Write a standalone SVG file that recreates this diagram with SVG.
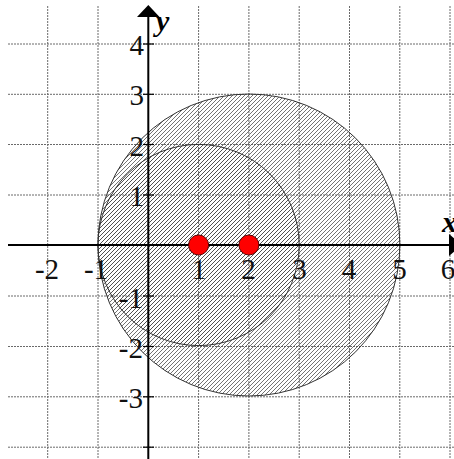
<svg xmlns="http://www.w3.org/2000/svg" width="454" height="459" viewBox="0 0 454 459">
<style>
.grid line{stroke:#6a6a6a;stroke-width:1;stroke-dasharray:2 1}
.lbl{font-family:"Liberation Serif","Times New Roman",serif;font-size:29px;fill:#111}
.ax{font-family:"Liberation Serif","Times New Roman",serif;font-size:30px;font-weight:bold;font-style:italic;fill:#000}
.circ{fill:url(#hatch);stroke:#333;stroke-width:1}
.pt{fill:#ff0000;stroke:#5a0000;stroke-width:1}
</style>
<defs>
<pattern id="hatch" patternUnits="userSpaceOnUse" width="4" height="4">
<path d="M-1,5 L5,-1 M-1,1 L1,-1 M3,5 L5,3" stroke="#444" stroke-width="0.75" fill="none"/>
</pattern>
</defs>
<rect width="454" height="459" fill="#fff"/>
<g class="grid" id="grid">
<line x1="47.7" y1="6" x2="47.7" y2="459"/>
<line x1="98" y1="6" x2="98" y2="459"/>
<line x1="198.6" y1="6" x2="198.6" y2="459"/>
<line x1="248.9" y1="6" x2="248.9" y2="459"/>
<line x1="299.2" y1="6" x2="299.2" y2="459"/>
<line x1="349.5" y1="6" x2="349.5" y2="459"/>
<line x1="399.8" y1="6" x2="399.8" y2="459"/>
<line x1="450" y1="6" x2="450" y2="459"/>
<line x1="8" y1="44" x2="454" y2="44"/>
<line x1="8" y1="94.3" x2="454" y2="94.3"/>
<line x1="8" y1="144.5" x2="454" y2="144.5"/>
<line x1="8" y1="195" x2="454" y2="195"/>
<line x1="8" y1="296" x2="454" y2="296"/>
<line x1="8" y1="346.5" x2="454" y2="346.5"/>
<line x1="8" y1="396.8" x2="454" y2="396.8"/>
<line x1="8" y1="447.2" x2="454" y2="447.2"/>
</g>
<g id="circle-big"><circle class="circ" cx="248.9" cy="245" r="151"/></g>
<g id="circle-small"><circle class="circ" cx="198.6" cy="245" r="100.6"/></g>
<g id="axes" stroke="#000" fill="#000">
<line x1="8" y1="245" x2="450" y2="245" stroke-width="2"/>
<polygon points="449,234 462,245 449,256" stroke="none"/>
<line x1="148.3" y1="14" x2="148.3" y2="459" stroke-width="2"/>
<polygon points="137,17 148.3,5 159.6,17" stroke="none"/>
<g stroke-width="1.2">
<line x1="143" y1="44" x2="154" y2="44"/>
<line x1="143" y1="94.3" x2="154" y2="94.3"/>
<line x1="143" y1="144.5" x2="154" y2="144.5"/>
<line x1="143" y1="195" x2="154" y2="195"/>
<line x1="143" y1="296" x2="154" y2="296"/>
<line x1="143" y1="346.5" x2="154" y2="346.5"/>
<line x1="143" y1="396.8" x2="154" y2="396.8"/>
<line x1="143" y1="447.2" x2="154" y2="447.2"/>
</g>
</g>
<g id="labels">
<text class="ax" x="156" y="31">y</text>
<text class="ax" x="442" y="232">x</text>
<g class="lbl" text-anchor="end">
<text x="144" y="55">4</text>
<text x="144" y="105">3</text>
<text x="144" y="155.5">2</text>
<text x="144" y="206">1</text>
<text x="143" y="307.5">-1</text>
<text x="143" y="358">-2</text>
<text x="143" y="408">-3</text>
</g>
<g class="lbl" text-anchor="middle">
<text x="47" y="279">-2</text>
<text x="96" y="279">-1</text>
<text x="199" y="279">1</text>
<text x="248.5" y="279">2</text>
<text x="299.5" y="279">3</text>
<text x="349" y="279">4</text>
<text x="399.5" y="279">5</text>
<text x="448" y="279">6</text>
</g>
</g>
<g id="points">
<circle class="pt" cx="198.6" cy="245" r="10"/>
<circle class="pt" cx="248.9" cy="245" r="10"/>
</g>
</svg>
